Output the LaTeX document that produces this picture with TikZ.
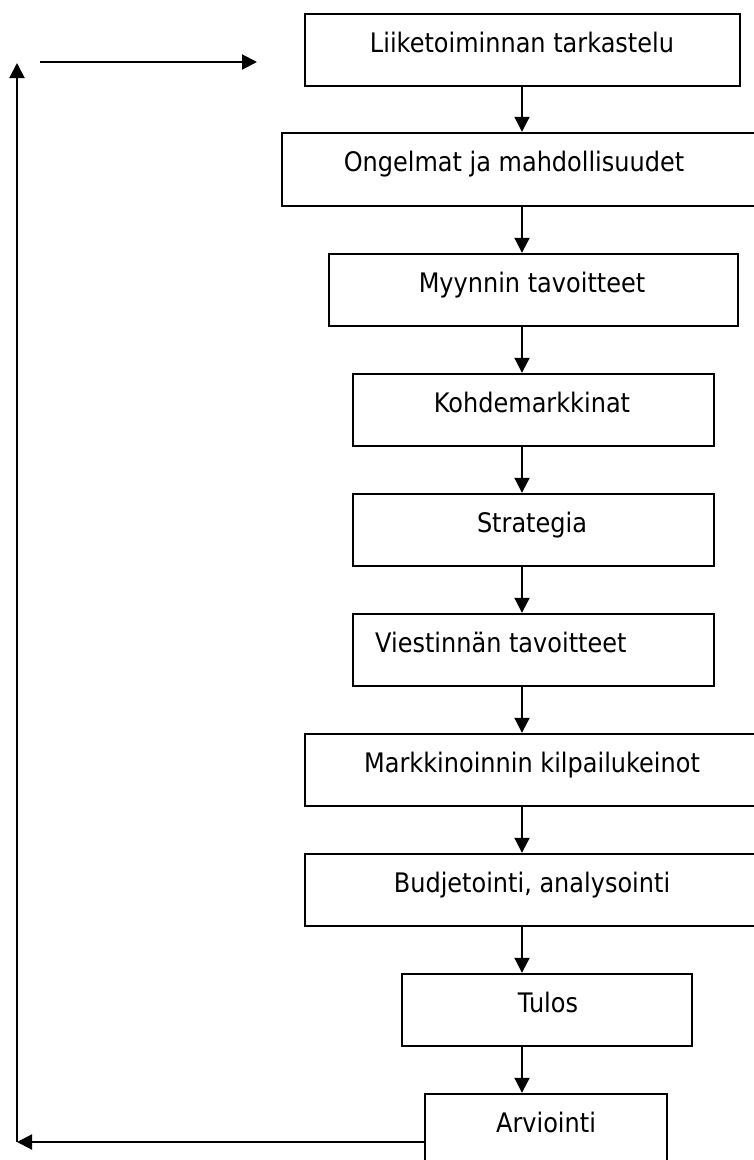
\documentclass[tikz,border=0pt]{standalone}
\usepackage{graphicx}
\usepackage{fontspec}
\setmainfont{DejaVu Sans}
\usetikzlibrary{arrows.meta}

% labels are set a little taller than the font's natural shape
\newcommand{\tallword}[1]{\scalebox{1}[1.12]{#1}}

\tikzset{
  stagebox/.style={draw=black, line width=2.4pt, rectangle, inner sep=0pt},
  stagetext/.style={anchor=base, inner sep=0pt,
    font=\fontsize{24}{28}\selectfont},
  flow/.style={line width=2pt, -{Triangle[length=15pt,width=15pt]}}
}

\begin{document}
\begin{tikzpicture}[x=1pt, y={(0pt,-1pt)}]
\useasboundingbox (0,0) rectangle (753,1160);

% the ten stages, top to bottom
\node[stagebox, minimum width=435pt, minimum height=72pt] (b1)  at (522.5,50)  {};
\node[stagebox, minimum width=480pt, minimum height=73pt] (b2)  at (522,169.5) {};
\node[stagebox, minimum width=409pt, minimum height=72pt] (b3)  at (533.5,290) {};
\node[stagebox, minimum width=361pt, minimum height=72pt] (b4)  at (533.5,410) {};
\node[stagebox, minimum width=361pt, minimum height=72pt] (b5)  at (533.5,530) {};
\node[stagebox, minimum width=361pt, minimum height=72pt] (b6)  at (533.5,650) {};
\node[stagebox, minimum width=457pt, minimum height=72pt] (b7)  at (533.5,770) {};
\node[stagebox, minimum width=457pt, minimum height=72pt] (b8)  at (533.5,890) {};
\node[stagebox, minimum width=290pt, minimum height=72pt] (b9)  at (547,1010)  {};
\node[stagebox, minimum width=242pt, minimum height=72pt] (b10) at (546,1130)  {};

% stage labels
\node[stagetext] (t1)  at (522,52)   {\tallword{Liiketoiminnan tarkastelu}};
\node[stagetext] (t2)  at (514,171)  {\tallword{Ongelmat ja mahdollisuudet}};
\node[stagetext] (t3)  at (532,292)  {\tallword{Myynnin tavoitteet}};
\node[stagetext] (t4)  at (532,412)  {\tallword{Kohdemarkkinat}};
\node[stagetext] (t5)  at (532,532)  {\tallword{Strategia}};
\node[stagetext, anchor=base west] (t6) at (375,652) {\tallword{Viestinnän tavoitteet}};
\node[stagetext] (t7)  at (532,772)  {\tallword{Markkinoinnin kilpailukeinot}};
\node[stagetext] (t8)  at (532,892)  {\tallword{Budjetointi, analysointi}};
\node[stagetext] (t9)  at (548,1012) {\tallword{Tulos}};
\node[stagetext] (t10) at (546,1132) {\tallword{Arviointi}};

% main flow down the column
\coordinate (axis) at (522,0);
\foreach \a/\b in {b1/b2,b2/b3,b3/b4,b4/b5,b5/b6,b6/b7,b7/b8,b8/b9,b9/b10}
  \draw[flow] (\a.south -| axis) -- (\b.north -| axis);

% feedback loop on the left
\coordinate (fbB) at (17,1142);
\coordinate (fbT) at (17,63);
\coordinate (inS) at (40,62);
\coordinate (inE) at (257,62);
\draw[flow] (b10.west |- fbB) -- (fbB);
\draw[flow] (fbB) -- (fbT);
\draw[flow] (inS) -- (inE);
\end{tikzpicture}
\end{document}
